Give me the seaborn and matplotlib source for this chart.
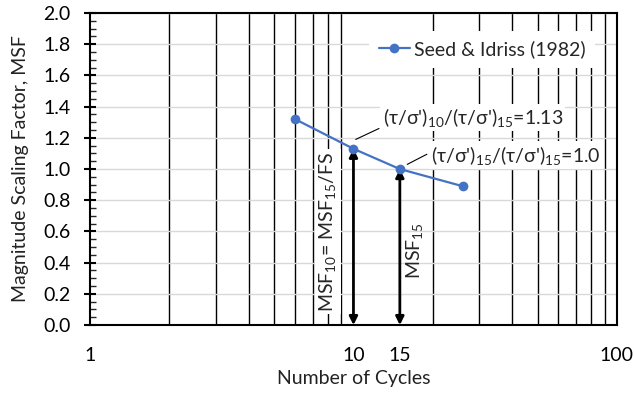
import matplotlib
matplotlib.use("Agg")
import matplotlib.pyplot as plt
import seaborn as sns
import pandas as pd
from matplotlib.ticker import FixedLocator, NullFormatter, MultipleLocator

cycles = [6, 10, 15, 26]
msf = [1.32, 1.13, 1.00, 0.89]
series_name = "Seed & Idriss (1982)"
xtick_vals = [1, 10, 15, 100]
xtick_labels = ["1", "10", "15", "100"]

sns.set_theme(style="white")
plt.rcParams['font.family'] = ['Lato', 'DejaVu Sans']
plt.rcParams['mathtext.fontset'] = 'custom'
plt.rcParams['mathtext.rm'] = 'Lato'
plt.rcParams['mathtext.it'] = 'Lato'
plt.rcParams['mathtext.default'] = 'rm'

FS = 14

df = pd.DataFrame({"Cycles": cycles, "MSF": msf, "Series": series_name})

fig = plt.figure(figsize=(6.34, 3.95), dpi=100)
ax = fig.add_axes([0.142, 0.177, 0.831, 0.790])

sns.lineplot(data=df, x="Cycles", y="MSF", hue="Series", palette=["#4472C4"],
             marker="o", markersize=7, markeredgewidth=0, lw=1.6, ax=ax, zorder=5)

ax.set_xscale("log")
ax.set_xlim(1, 100)
ax.set_ylim(0, 2.0)

ax.xaxis.set_major_locator(FixedLocator(xtick_vals))
ax.set_xticklabels(xtick_labels)
ax.xaxis.set_minor_locator(FixedLocator([2, 3, 4, 5, 6, 7, 8, 9, 20, 30, 40, 50, 60, 70, 80, 90]))
ax.xaxis.set_minor_formatter(NullFormatter())
ax.yaxis.set_major_locator(MultipleLocator(0.2))
ax.yaxis.set_minor_locator(MultipleLocator(0.05))
ax.yaxis.set_major_formatter(plt.FuncFormatter(lambda v, p: f"{v:.1f}"))

ax.set_axisbelow(True)
ax.grid(which="minor", axis="x", color="black", lw=1.0)
ax.grid(which="major", axis="y", color="#d9d9d9", lw=1.0)
ax.grid(which="major", axis="x", visible=False)

ax.tick_params(axis="x", which="major", direction="out", length=6, width=1.5,
               labelsize=FS, pad=10, colors="black")
ax.tick_params(axis="x", which="minor", length=0)
ax.tick_params(axis="y", which="major", direction="inout", length=8, width=1.5,
               labelsize=FS, colors="black", left=True, pad=10)
ax.tick_params(axis="y", which="minor", direction="in", length=4, width=1.0, left=True)
ax.xaxis.get_major_ticks()[2].tick1line.set_visible(False)

for s in ax.spines.values():
    s.set_color("black")
    s.set_linewidth(1.5)

ax.set_xlabel("Number of Cycles", fontsize=FS, color="#222222", labelpad=4)
ax.set_ylabel("Magnitude Scaling Factor, MSF", fontsize=FS, color="#222222", labelpad=10)

# arrows
arrow_kw = dict(arrowstyle="<|-|>", color="black", lw=2, mutation_scale=12,
                shrinkA=0, shrinkB=0)
ax.annotate("", xy=(cycles[1], msf[1]), xytext=(cycles[1], 0), arrowprops=arrow_kw, zorder=4)
ax.annotate("", xy=(cycles[2], msf[2]), xytext=(cycles[2], 0), arrowprops=arrow_kw, zorder=4)

box = dict(facecolor="white", edgecolor="none", pad=1.5)
ax.text(8.0, 0.60, r"MSF$_{10}$= MSF$_{15}$/FS", rotation=90, ha="center", va="center",
        fontsize=FS, bbox=box, zorder=3)
ax.text(17.0, 0.48, r"MSF$_{15}$", rotation=90, ha="center", va="center",
        fontsize=FS, zorder=3)

ax.text(12.9, 1.33, r"(τ/σ')$_{10}$/(τ/σ')$_{15}$=1.13", ha="left", va="center",
        fontsize=FS, bbox=box, zorder=3)
ax.text(19.7, 1.09, r"(τ/σ')$_{15}$/(τ/σ')$_{15}$=1.0", ha="left", va="center",
        fontsize=FS, bbox=box, zorder=3)
ax.plot([10.2, 12.5], [1.19, 1.26], color="black", lw=0.8, zorder=3)
ax.plot([16.0, 19.0], [1.03, 1.095], color="black", lw=0.8, zorder=3)

leg = ax.legend(loc="upper right", bbox_to_anchor=(0.977, 0.975), fontsize=FS,
                frameon=True, fancybox=False, framealpha=1, edgecolor="white",
                handlelength=1.6, borderpad=0.5, handletextpad=0.2)
leg.get_frame().set_facecolor("white")
leg.get_frame().set_linewidth(0)
leg.set_zorder(6)

fig.savefig("out.png", dpi=100)
